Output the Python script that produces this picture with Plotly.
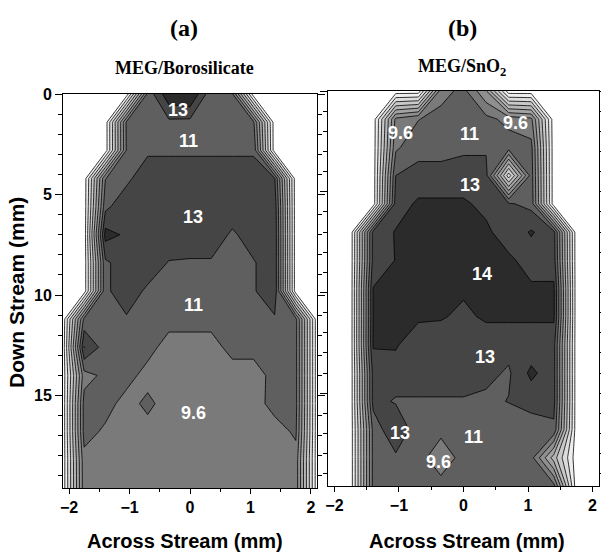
import plotly.graph_objects as go

# grid coordinates (mm)
across = [-2.1, -1.75, -1.4, -1.05, -0.7, -0.35, 0.0, 0.35, 0.7, 1.05, 1.4, 1.75, 2.1]
down = [0.0, 1.4, 2.8, 4.2, 5.6, 7.0, 8.4, 9.8, 11.2, 12.6, 14.0, 15.4, 16.8, 18.2, 19.6]

# panel (a) MEG/Borosilicate
z_boro = [
    [0, 0, 0, 0, 11.5, 15.0, 15.5, 11.5, 11.3, 0, 0, 0, 0],
    [0, 0, 0, 11.3, 11.8, 12.2, 12.1, 11.9, 11.7, 11.3, 0, 0, 0],
    [0, 0, 0, 11.2, 12.2, 12.2, 12.2, 12.2, 12.2, 12.2, 0, 0, 0],
    [0, 0, 11.0, 12.1, 13.6, 13.6, 13.6, 13.6, 13.6, 13.6, 12.6, 0, 0],
    [0, 0, 12.1, 13.6, 13.6, 13.6, 13.6, 13.6, 13.6, 13.6, 13.4, 0, 0],
    [0, 0, 14.5, 13.7, 13.6, 13.6, 13.6, 13.6, 12.2, 13.4, 13.6, 0, 0],
    [0, 0, 12.2, 13.4, 13.5, 12.4, 12.3, 12.3, 12.0, 12.35, 13.6, 0, 0],
    [0, 0, 12.2, 13.4, 12.2, 11.9, 11.8, 11.8, 11.8, 12.35, 13.6, 0, 0],
    [0, 11.5, 12.0, 12.33, 11.8, 11.6, 11.6, 11.6, 11.8, 11.8, 12.3, 11.5, 0],
    [0, 14.0, 11.8, 11.8, 11.6, 10.4, 10.4, 10.4, 11.6, 11.6, 11.8, 11.5, 0],
    [0, 10.5, 11.4, 11.6, 10.5, 10.4, 10.4, 10.4, 10.3, 10.3, 11.6, 11.5, 0],
    [0, 11.6, 11.6, 10.5, 11.4, 10.4, 10.4, 10.4, 10.4, 10.4, 11.6, 11.5, 0],
    [0, 11.6, 10.8, 10.5, 10.5, 10.5, 10.5, 10.5, 10.5, 10.5, 10.4, 11.3, 0],
    [0, 10.6, 10.5, 10.5, 10.5, 10.5, 10.5, 10.5, 10.5, 10.5, 10.5, 10.5, 0],
    [0, 10.5, 10.5, 10.5, 10.5, 10.5, 10.5, 10.5, 10.5, 10.5, 10.5, 10.5, 0],
]

# panel (b) MEG/SnO2
z_sno2 = [
    [0, 0, 0, 0, 0, 10.45, 11.5, 8.3, 0, 0, 0, 0, 0],
    [0, 0, 0, 10.0, 11.0, 11.6, 11.8, 11.5, 10.6, 10.0, 0, 0, 0],
    [0, 0, 0, 10.8, 12.0, 12.0, 12.3, 12.3, 11.8, 11.5, 0, 0, 0],
    [0, 0, 0, 12.5, 13.0, 13.0, 13.0, 13.0, 3.0, 11.8, 0, 0, 0],
    [0, 0, 0, 13.2, 14.2, 14.2, 14.2, 13.5, 12.7, 12.0, 0, 0, 0],
    [0, 0, 13.0, 14.05, 14.3, 14.3, 14.3, 14.3, 13.0, 14.1, 13.0, 0, 0],
    [0, 0, 13.0, 14.0, 14.3, 14.3, 14.3, 14.3, 14.3, 13.2, 13.2, 0, 0],
    [0, 0, 14.0, 14.2, 14.2, 14.2, 14.2, 14.2, 14.2, 14.2, 14.2, 0, 0],
    [0, 0, 14.0, 14.2, 14.2, 14.1, 13.6, 14.2, 14.2, 14.2, 14.2, 0, 0],
    [0, 0, 14.1, 14.1, 13.0, 13.0, 13.0, 13.0, 13.0, 13.0, 13.0, 0, 0],
    [0, 0, 13.0, 13.3, 13.3, 13.3, 13.3, 12.9, 12.3, 14.3, 13.0, 0, 0],
    [0, 0, 13.0, 12.35, 12.35, 12.35, 12.35, 12.2, 12.55, 13.0, 13.0, 0, 0],
    [0, 0, 11.5, 13.9, 11.5, 11.6, 11.6, 11.6, 11.6, 11.8, 12.2, 0, 0],
    [0, 0, 11.5, 12.2, 11.8, 9.8, 11.8, 11.8, 11.8, 11.6, 6.0, 0, 0],
    [0, 0, 11.5, 11.8, 11.8, 11.8, 11.8, 11.8, 11.8, 11.8, 11.5, 0, 0],
]

# region labels
boro_label_x = [-0.2, -0.03, 0.05, 0.05, 0.05]
boro_label_y = [0.8, 2.35, 6.1, 10.5, 15.85]
boro_label_text = ["13", "11", "13", "11", "9.6"]

sno2_label_x = [-0.98, 0.1, 0.8, 0.1, 0.28, 0.33, -0.98, 0.16, -0.39]
sno2_label_y = [2.1, 2.15, 1.6, 4.65, 9.1, 13.2, 16.95, 17.15, 18.4]
sno2_label_text = ["9.6", "11", "9.6", "13", "14", "13", "13", "11", "9.6"]

x_ticks = [-2, -1, 0, 1, 2]
y_ticks = [0, 5, 10, 15]

gray_scale = [
    [0.0, "#ffffff"], [0.1, "#eeeeee"], [0.2, "#dcdcdc"], [0.3, "#c9c9c9"],
    [0.4, "#b6b6b6"], [0.5, "#a3a3a3"], [0.6, "#8f8f8f"], [0.7, "#7a7a7a"],
    [0.8, "#5f5f5f"], [0.9, "#454545"], [1.0, "#2b2b2b"],
]

contour_levels = dict(start=0.9, end=14.0, size=1.45, coloring="fill", showlabels=False)

fig = go.Figure()
for z, xa, ya in [(z_boro, "x", "y"), (z_sno2, "x2", "y2")]:
    fig.add_trace(go.Contour(
        x=across, y=down, z=z, xaxis=xa, yaxis=ya,
        contours=contour_levels, colorscale=gray_scale, showscale=False,
        line=dict(color="black", width=0.8, smoothing=0), hoverinfo="skip",
    ))

label_font = dict(family="Liberation Sans, Arial", size=18, color="white", weight="bold")
annotations = []
for lx, ly, lt in zip(boro_label_x, boro_label_y, boro_label_text):
    annotations.append(dict(x=lx, y=ly, xref="x", yref="y", text=lt, showarrow=False,
                            xanchor="center", yanchor="middle", font=label_font))
for lx, ly, lt in zip(sno2_label_x, sno2_label_y, sno2_label_text):
    annotations.append(dict(x=lx, y=ly, xref="x2", yref="y2", text=lt, showarrow=False,
                            xanchor="center", yanchor="middle", font=label_font))

serif = "Liberation Serif, Times New Roman"
sans = "Liberation Sans, Arial"
W, H = 601, 555
def px(xp): return xp / W
def py(yp): return (H - yp) / H

def paper_text(xp, yp, text, family, size, angle=0):
    return dict(x=px(xp), y=py(yp), xref="paper", yref="paper", text=text, showarrow=False,
                xanchor="center", yanchor="middle", textangle=angle,
                font=dict(family=family, size=size, color="black", weight="bold"))

annotations += [
    paper_text(184, 28, "(a)", serif, 24),
    paper_text(184, 68, "MEG/Borosilicate", serif, 18),
    paper_text(462, 28, "(b)", serif, 24),
    paper_text(462, 68, "MEG/SnO<sub>2</sub>", serif, 18),
    paper_text(185, 541, "Across Stream (mm)", sans, 20),
    paper_text(467, 541, "Across Stream (mm)", sans, 20),
    paper_text(17, 293, "Down Stream (mm)", sans, 21, -90),
]

tick_font = dict(family=sans, size=16, color="black", weight="bold")
xcommon = dict(range=[-2.1, 2.1], tickvals=x_ticks, ticks="outside", ticklen=5, tickwidth=1,
               tickcolor="black", showline=True, linecolor="black", linewidth=1, mirror=True,
               showgrid=False, zeroline=False, tickfont=tick_font, automargin=False,
               minor=dict(dtick=0.5, ticks="outside", ticklen=3, tickcolor="black", showgrid=False))
ycommon = dict(range=[19.6, 0], tickvals=y_ticks, ticks="outside", ticklen=7, tickwidth=1,
               tickcolor="black", showline=True, linecolor="black", linewidth=1, mirror="ticks",
               showgrid=False, zeroline=False, tickfont=tick_font, automargin=False,
               minor=dict(dtick=1, ticks="outside", ticklen=4, tickcolor="black", showgrid=False))

fig.update_layout(
    width=W, height=H, margin=dict(l=0, r=0, t=0, b=0),
    paper_bgcolor="white", plot_bgcolor="white", showlegend=False,
    xaxis=dict(domain=[px(63), px(317)], anchor="y", **xcommon),
    yaxis=dict(domain=[py(488), py(94)], anchor="x", **ycommon),
    xaxis2=dict(domain=[px(328), px(599)], anchor="y2", **xcommon),
    yaxis2=dict(domain=[py(486), py(91)], anchor="x2", showticklabels=False, **ycommon),
    annotations=annotations,
)

fig.write_html("out.html", config={"displayModeBar": False},
               post_script="document.body.style.margin='0px';")
